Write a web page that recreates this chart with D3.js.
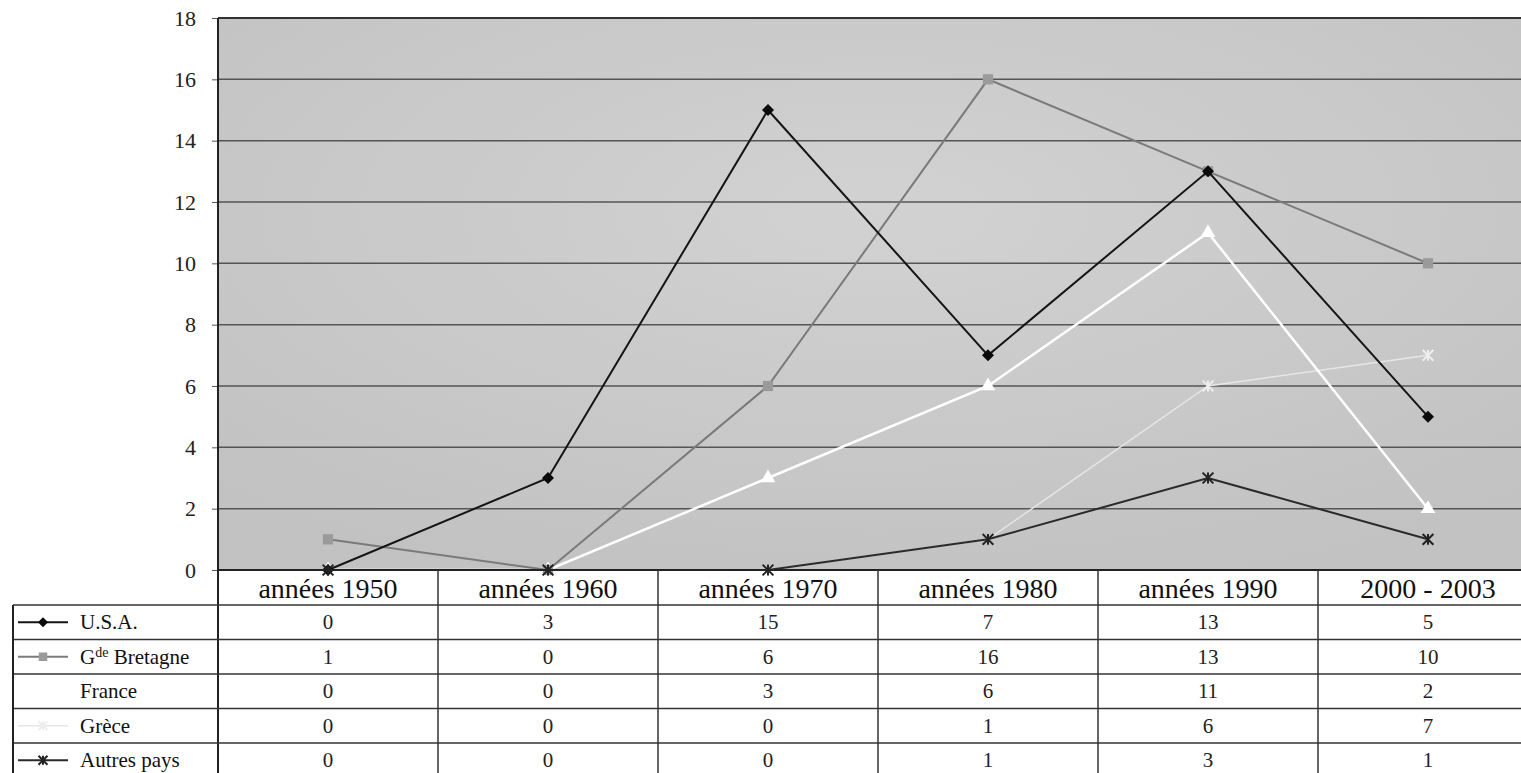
<!DOCTYPE html>
<html>
<head>
<meta charset="utf-8">
<script src="https://cdn.jsdelivr.net/npm/d3@7"></script>
<style>
  body { margin: 0; background: #fff; }
  svg { display: block; }
  svg text { font-family: "Liberation Serif", "Times New Roman", "DejaVu Serif", serif; }
</style>
</head>
<body>
<svg id="chart" width="1521" height="773"></svg>
<script>
// data
let categories = ["années 1950", "années 1960", "années 1970", "années 1980", "années 1990", "2000 - 2003"];
let seriesNames = ["U.S.A.", "Gde Bretagne", "France", "Grèce", "Autres pays"];
let usa = [0, 3, 15, 7, 13, 5];
let bretagne = [1, 0, 6, 16, 13, 10];
let france = [0, 0, 3, 6, 11, 2];
let grece = [0, 0, 0, 1, 6, 7];
let autres = [0, 0, 0, 1, 3, 1];
let yTicks = [0, 2, 4, 6, 8, 10, 12, 14, 16, 18];

let series = [
  {name: seriesNames[0], values: usa, line: "#151515", width: 2, marker: "diamond", fill: "#0a0a0a"},
  {name: seriesNames[1], values: bretagne, line: "#7a7a7a", width: 2, marker: "square", fill: "#9a9a9a"},
  {name: seriesNames[2], values: france, line: "#ffffff", width: 2.5, marker: "triangle", fill: "#ffffff"},
  {name: seriesNames[3], values: grece, line: "#e6e6e6", width: 1.5, marker: "star", fill: "#eeeeee"},
  {name: seriesNames[4], values: autres, line: "#2a2a2a", width: 2, marker: "star", fill: "#222"}
];

var svg = d3.select("#chart");

// note: "top" is a reserved window property, so use other names
var plotLeft = 218, plotTop = 18, plotBottom = 570, plotRight = 1538;
var legendLeft = 13;
var headerH = 35, rowH = 34.5;
var serif = '"Liberation Serif", "Times New Roman", "DejaVu Serif", serif';

var x = d3.scaleBand().domain(categories).range([plotLeft, plotRight]);
var y = d3.scaleLinear().domain([0, 18]).range([plotBottom, plotTop]);

// plot background
var defs = svg.append("defs");
var grad = defs.append("radialGradient").attr("id", "bg")
  .attr("cx", "50%").attr("cy", "35%").attr("r", "70%");
grad.append("stop").attr("offset", "0%").attr("stop-color", "#d2d2d2");
grad.append("stop").attr("offset", "100%").attr("stop-color", "#c2c2c2");

svg.append("rect")
  .attr("x", plotLeft).attr("y", plotTop)
  .attr("width", plotRight - plotLeft).attr("height", plotBottom - plotTop)
  .attr("fill", "url(#bg)");

// grid lines
svg.append("g").selectAll("line")
  .data(yTicks.filter(d => d > 0))
  .enter().append("line")
  .attr("x1", plotLeft).attr("x2", plotRight)
  .attr("y1", d => y(d)).attr("y2", d => y(d))
  .attr("stroke", d => d == 18 ? "#333" : "#555")
  .attr("stroke-width", d => d == 18 ? 2 : 1.5);

// y axis
var yAxis = d3.axisLeft(y).tickValues(yTicks).tickSize(6).tickPadding(16);
var ya = svg.append("g").attr("transform", "translate(" + plotLeft + ",0)").call(yAxis);
ya.attr("font-family", null);
ya.select(".domain").remove();
ya.selectAll(".tick line").attr("stroke", "#555");
ya.selectAll(".tick text")
  .style("font-family", serif).style("font-size", "22px").attr("fill", "#222");

// lines and markers
var line = d3.line()
  .x((d, i) => x(categories[i]) + x.bandwidth() / 2)
  .y(d => y(d));

function drawMarker(g, type, cx, cy, s, fill) {
  if (type == "star") {
    var r = s * 0.9;
    g.append("path")
      .attr("d", "M" + (cx - r) + "," + (cy - r) + "L" + (cx + r) + "," + (cy + r) +
                 "M" + (cx - r) + "," + (cy + r) + "L" + (cx + r) + "," + (cy - r) +
                 "M" + cx + "," + (cy - r) + "L" + cx + "," + (cy + r))
      .attr("stroke", fill).attr("stroke-width", 2).attr("fill", "none");
  } else if (type == "diamond") {
    g.append("path")
      .attr("d", "M" + cx + "," + (cy - s) + "L" + (cx + s) + "," + cy + "L" + cx + "," + (cy + s) + "L" + (cx - s) + "," + cy + "Z")
      .attr("fill", fill);
  } else if (type == "square") {
    var h = s * 0.85;
    g.append("rect")
      .attr("x", cx - h).attr("y", cy - h).attr("width", 2 * h).attr("height", 2 * h)
      .attr("fill", fill);
  } else {
    g.append("path")
      .attr("d", d3.symbol(d3.symbolTriangle, s * s * 2.6)())
      .attr("transform", "translate(" + cx + "," + cy + ")")
      .attr("fill", fill);
  }
}

var order = [3, 2, 1, 0, 4];
order.forEach(function(k) {
  var s = series[k];
  var g = svg.append("g");
  g.append("path")
    .attr("d", line(s.values))
    .attr("fill", "none")
    .attr("stroke", s.line)
    .attr("stroke-width", s.width);
  s.values.forEach(function(v, i) {
    drawMarker(g, s.marker, x(categories[i]) + x.bandwidth() / 2, y(v), 6, s.fill);
  });
});

// frame: left and bottom of plot
svg.append("line").attr("x1", plotLeft).attr("x2", plotLeft).attr("y1", plotTop).attr("y2", 773)
  .attr("stroke", "#222").attr("stroke-width", 2);
svg.append("line").attr("x1", plotLeft).attr("x2", plotRight).attr("y1", plotBottom).attr("y2", plotBottom)
  .attr("stroke", "#222").attr("stroke-width", 2);

// data table
var table = svg.append("g");

// header labels
table.selectAll(".head")
  .data(categories)
  .enter().append("text")
  .attr("x", d => x(d) + x.bandwidth() / 2)
  .attr("y", plotBottom + 28)
  .attr("text-anchor", "middle")
  .style("font-family", serif).style("font-size", "28px")
  .attr("fill", "#111")
  .text(d => d);

// column separators
table.selectAll(".col")
  .data(categories.slice(1))
  .enter().append("line")
  .attr("x1", d => x(d)).attr("x2", d => x(d))
  .attr("y1", plotBottom).attr("y2", 773)
  .attr("stroke", "#333").attr("stroke-width", 1.5);

// row lines
var rowY = d3.range(series.length + 1).map(i => plotBottom + headerH + i * rowH);
table.selectAll(".row")
  .data(rowY)
  .enter().append("line")
  .attr("x1", legendLeft).attr("x2", 1521)
  .attr("y1", d => d).attr("y2", d => d)
  .attr("stroke", "#333").attr("stroke-width", 1.5);
table.append("line")
  .attr("x1", legendLeft).attr("x2", legendLeft)
  .attr("y1", rowY[0]).attr("y2", 773)
  .attr("stroke", "#222").attr("stroke-width", 2);

series.forEach(function(s, r) {
  var cy = rowY[r] + rowH / 2;
  var g = table.append("g");
  // legend key
  g.append("line")
    .attr("x1", 18).attr("x2", 68).attr("y1", cy).attr("y2", cy)
    .attr("stroke", s.line).attr("stroke-width", s.width);
  drawMarker(g, s.marker, 43, cy, 5, s.fill);
  // label
  var t = g.append("text")
    .attr("x", 80).attr("y", cy + 7)
    .style("font-family", serif).style("font-size", "21px").attr("fill", "#111");
  if (s.name == "Gde Bretagne") {
    t.append("tspan").text("G");
    t.append("tspan").style("font-size", "14px").attr("dy", -7).text("de");
    t.append("tspan").attr("dy", 7).text(" Bretagne");
  } else {
    t.text(s.name);
  }
  // values
  g.selectAll(".val")
    .data(s.values)
    .enter().append("text")
    .attr("x", (d, i) => x(categories[i]) + x.bandwidth() / 2)
    .attr("y", cy + 7)
    .attr("text-anchor", "middle")
    .style("font-family", serif).style("font-size", "21px").attr("fill", "#222")
    .text(d => d);
});
</script>
</body>
</html>
